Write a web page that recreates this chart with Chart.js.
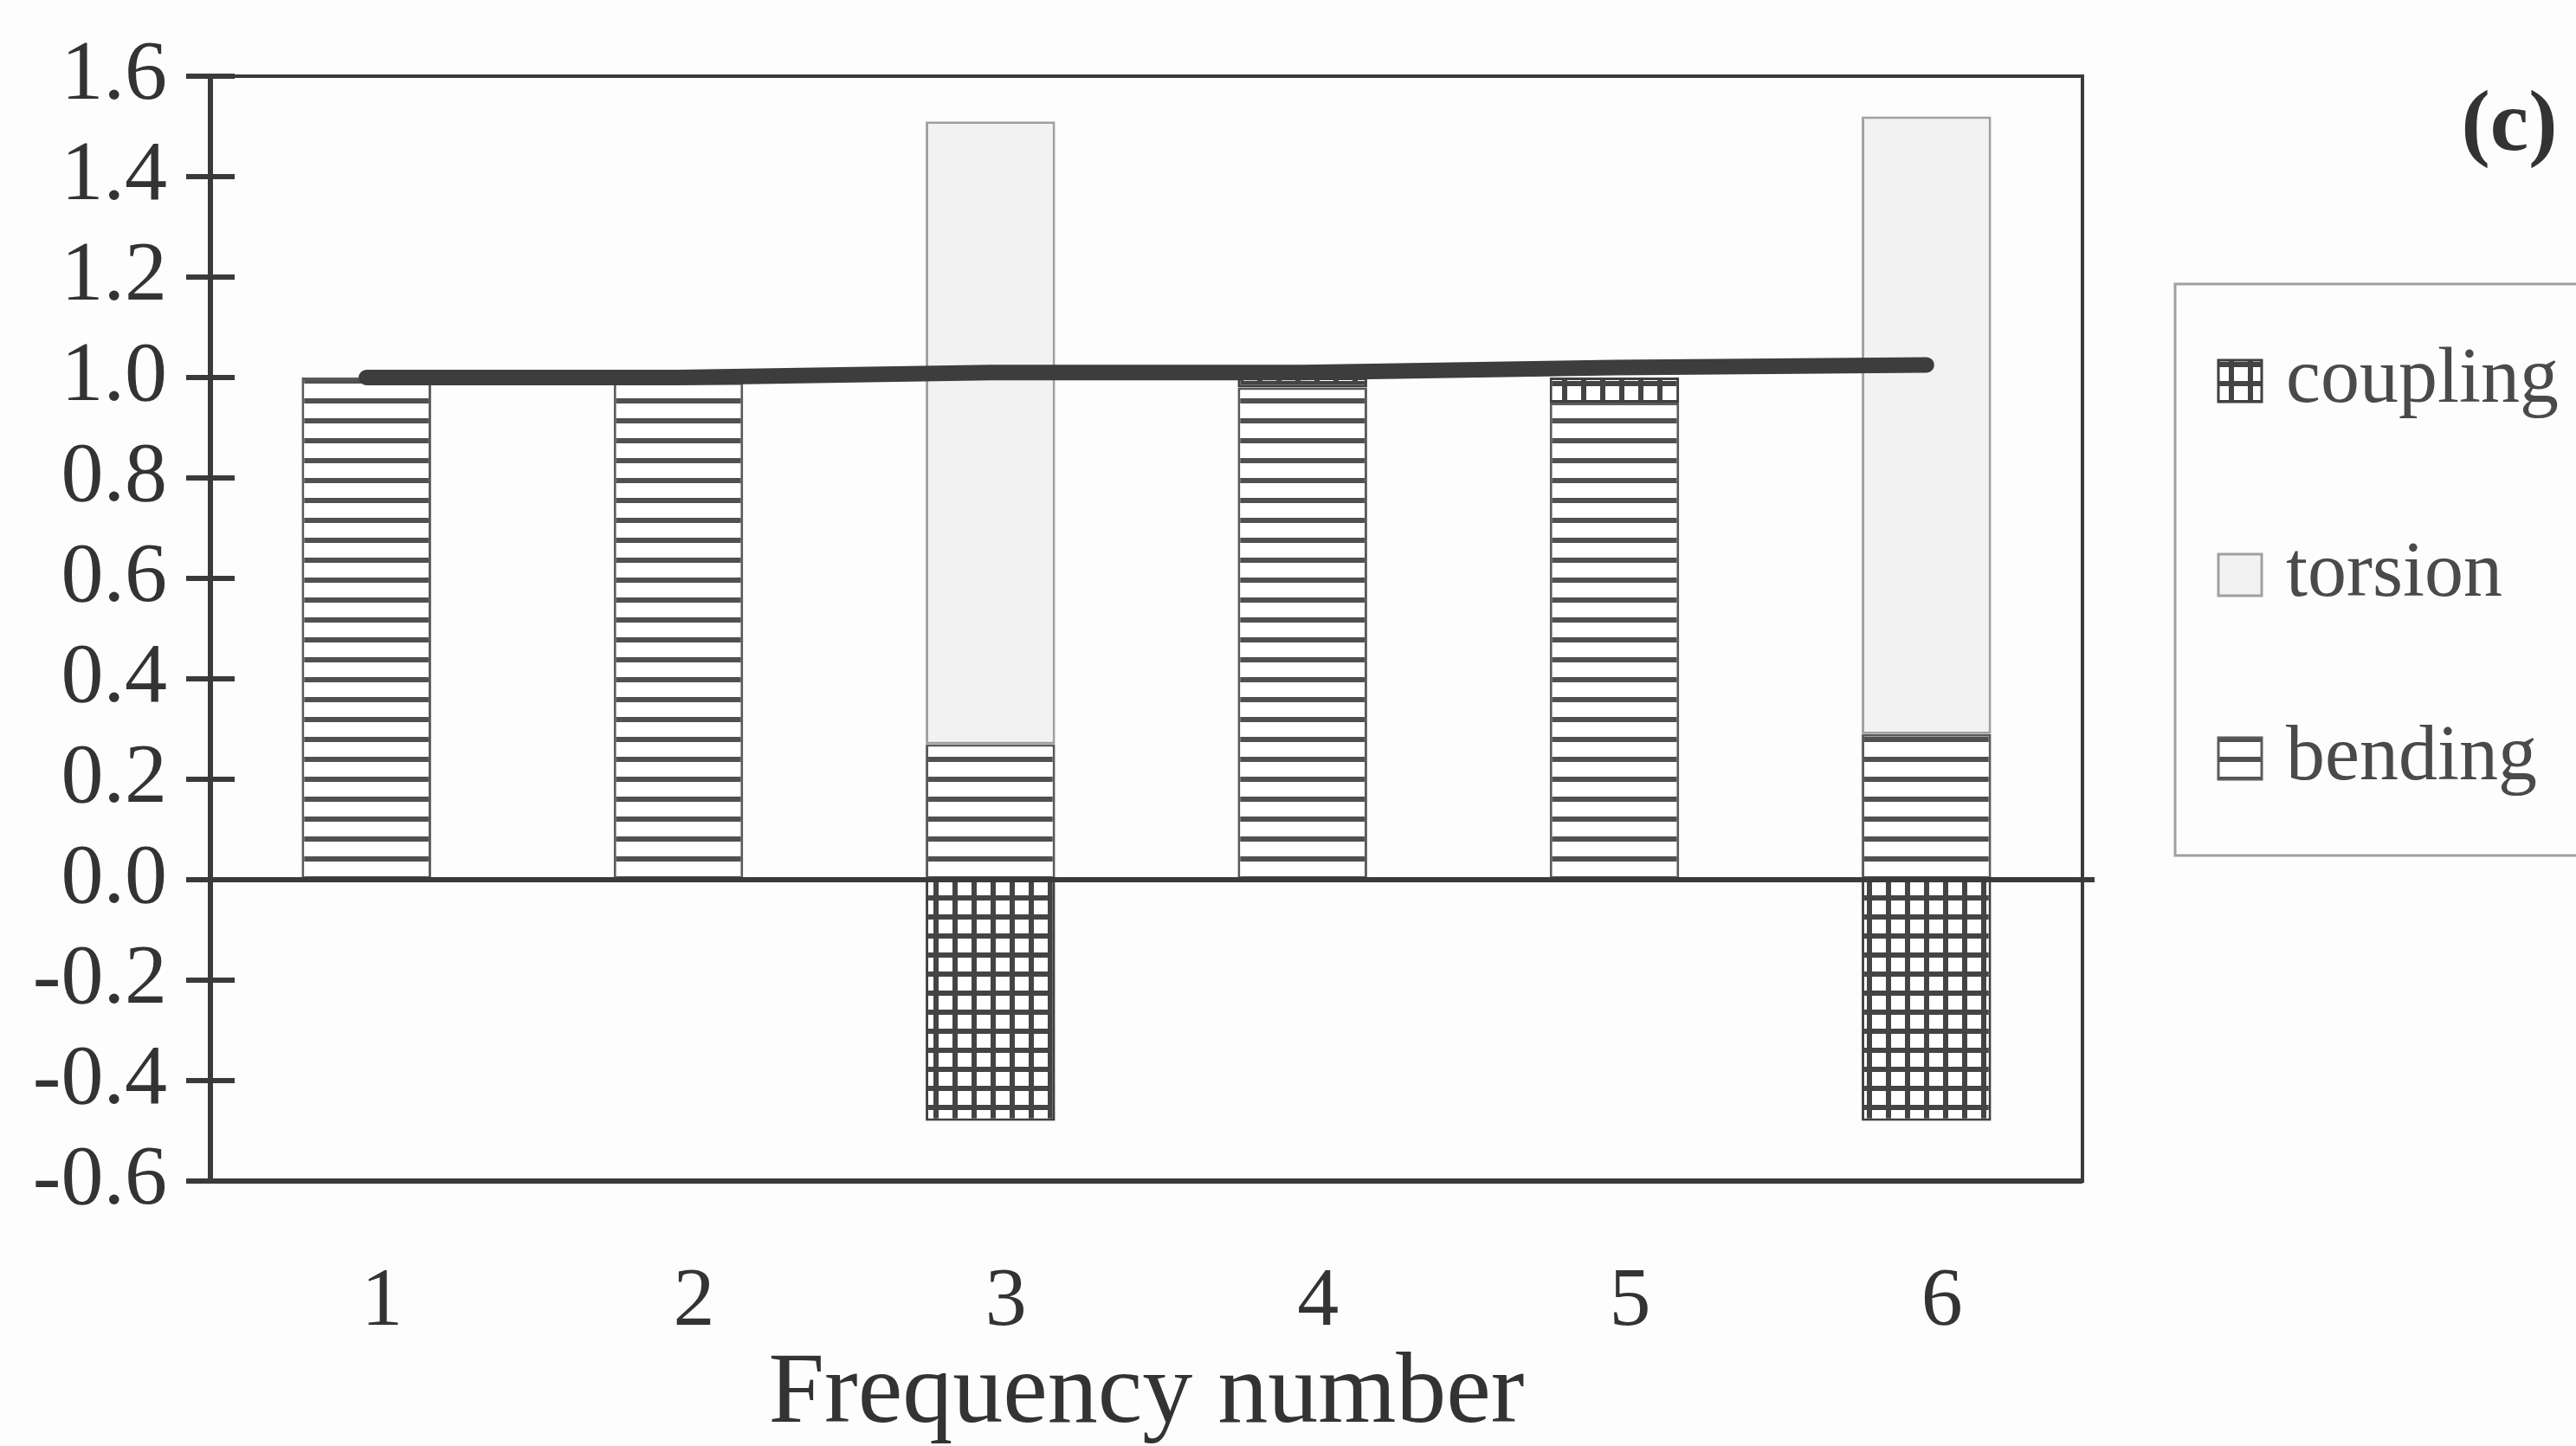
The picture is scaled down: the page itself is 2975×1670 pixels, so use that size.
<!DOCTYPE html>
<html>
<head>
<meta charset="utf-8">
<script src="https://cdn.jsdelivr.net/npm/chart.js@4.4.1/dist/chart.umd.min.js"></script>
<style>
html, body { margin: 0; padding: 0; background: #fdfdfd; }
#wrap { width: 2975px; height: 1670px; position: relative; }
</style>
</head>
<body>
<div id="wrap"><canvas id="chart"></canvas></div>
<script>
// values
const freqLabels = ['1', '2', '3', '4', '5', '6'];
const bending  = [1.00, 0.99, 0.27, 0.98, 0.95, 0.29];
const torsion  = [null, null, 1.24, null, null, 1.23];
const coupling = [null, null, -0.48, 0.02, 0.05, -0.48];
const total    = [1.00, 1.00, 1.01, 1.01, 1.02, 1.025];
const legendNames = ['coupling', 'torsion', 'bending'];
const panelTag = '(c)';

const SERIF = '"Liberation Serif", "DejaVu Serif", serif';

// fill patterns like the old hatch fills
function makePattern(w, h, paint) {
    const c = document.createElement('canvas');
    c.width = w; c.height = h;
    const g = c.getContext('2d');
    paint(g);
    return g.createPattern(c, 'repeat');
}
const bendFill = makePattern(23, 23, g => {
    g.fillStyle = '#ffffff'; g.fillRect(0, 0, 23, 23);
    g.fillStyle = '#505050'; g.fillRect(0, 0, 23, 6);
});
const coupFill = makePattern(22, 22, g => {
    g.fillStyle = '#ffffff'; g.fillRect(0, 0, 22, 22);
    g.fillStyle = '#444444'; g.fillRect(0, 0, 22, 6); g.fillRect(0, 0, 6, 22);
});
const torsFill = '#f2f2f2';

const fills = { coupling: coupFill, torsion: torsFill, bending: bendFill };
const edges = { coupling: '#404040', torsion: '#a0a0a0', bending: '#5a5a5a' };

// frame, crossing ticks, zero line, panel tag and the boxed legend
const decor = {
    id: 'decor',
    afterDraw(chart) {
        const { ctx, chartArea: a, scales: { y } } = chart;
        ctx.save();
        ctx.strokeStyle = '#3a3a3a';
        ctx.lineWidth = 4;
        ctx.strokeRect(a.left, a.top, a.width, a.height);
        ctx.lineWidth = 6;
        ctx.beginPath(); ctx.moveTo(a.left, a.top); ctx.lineTo(a.left, a.bottom); ctx.stroke();
        ctx.beginPath(); ctx.moveTo(a.left, a.bottom); ctx.lineTo(a.right, a.bottom); ctx.stroke();
        y.ticks.forEach(t => {
            const py = y.getPixelForValue(t.value);
            ctx.beginPath(); ctx.moveTo(a.left - 28, py); ctx.lineTo(a.left + 28, py); ctx.stroke();
        });
        const y0 = y.getPixelForValue(0);
        ctx.lineWidth = 6;
        ctx.beginPath(); ctx.moveTo(a.left, y0); ctx.lineTo(a.right + 14, y0); ctx.stroke();

        ctx.fillStyle = '#333';
        ctx.font = 'bold 100px ' + SERIF;
        ctx.textAlign = 'center'; ctx.textBaseline = 'middle';
        ctx.fillText(panelTag, 2898, 147);

        // legend box
        ctx.strokeStyle = '#a0a0a0'; ctx.lineWidth = 3;
        ctx.strokeRect(2512, 328, 520, 660);
        const rows = [440, 664, 876];
        ctx.font = '90px ' + SERIF;
        ctx.textAlign = 'left';
        legendNames.forEach((name, i) => {
            const cy = rows[i];
            ctx.fillStyle = fills[name];
            ctx.fillRect(2562, cy - 24, 50, 48);
            ctx.strokeStyle = edges[name]; ctx.lineWidth = 3;
            ctx.strokeRect(2562, cy - 24, 50, 48);
            ctx.fillStyle = '#4a4a4a';
            ctx.fillText(name, 2640, cy);
        });
        ctx.restore();
    }
};

new Chart(document.getElementById('chart'), {
    data: {
        labels: freqLabels,
        datasets: [
            { type: 'bar', label: 'bending', data: bending, backgroundColor: bendFill,
              borderColor: edges.bending, borderWidth: 3, order: 1 },
            { type: 'bar', label: 'torsion', data: torsion, backgroundColor: torsFill,
              borderColor: edges.torsion, borderWidth: 3, order: 1 },
            { type: 'bar', label: 'coupling', data: coupling, backgroundColor: coupFill,
              borderColor: edges.coupling, borderWidth: 3, order: 1 },
            { type: 'line', label: 'total', data: total, stack: 'line', borderColor: '#3d3d3d',
              borderWidth: 18, borderCapStyle: 'round', pointRadius: 0, tension: 0, order: 0 }
        ]
    },
    options: {
        responsive: true,
        maintainAspectRatio: false,
        animation: false,
        devicePixelRatio: 1,
        layout: { padding: { left: 7, right: 570, top: 88, bottom: 0 } },
        datasets: { bar: { categoryPercentage: 1, barPercentage: 0.415, borderSkipped: false } },
        scales: {
            x: {
                type: 'category', stacked: true, offset: true,
                grid: { display: false, drawTicks: false }, border: { display: false },
                ticks: { font: { family: SERIF, size: 96 }, color: '#333', padding: 83, labelOffset: 18 },
                title: { display: true, text: 'Frequency number', color: '#333', padding: 0,
                         font: { family: SERIF, size: 116, lineHeight: 1 } },
                afterFit: s => { s.height = 306; }
            },
            y: {
                stacked: true, min: -0.6, max: 1.6,
                grid: { display: false, drawTicks: false }, border: { display: false },
                ticks: { stepSize: 0.2, autoSkip: false, font: { family: SERIF, size: 98 }, color: '#333', padding: 50,
                         callback: v => (Math.abs(v) < 1e-9 ? 0 : v).toFixed(1) },
                afterFit: s => { s.width = 236; s.paddingTop = 0; s.paddingBottom = 0; }
            }
        },
        plugins: { legend: { display: false }, tooltip: { enabled: false } }
    },
    plugins: [decor]
});
</script>
</body>
</html>
